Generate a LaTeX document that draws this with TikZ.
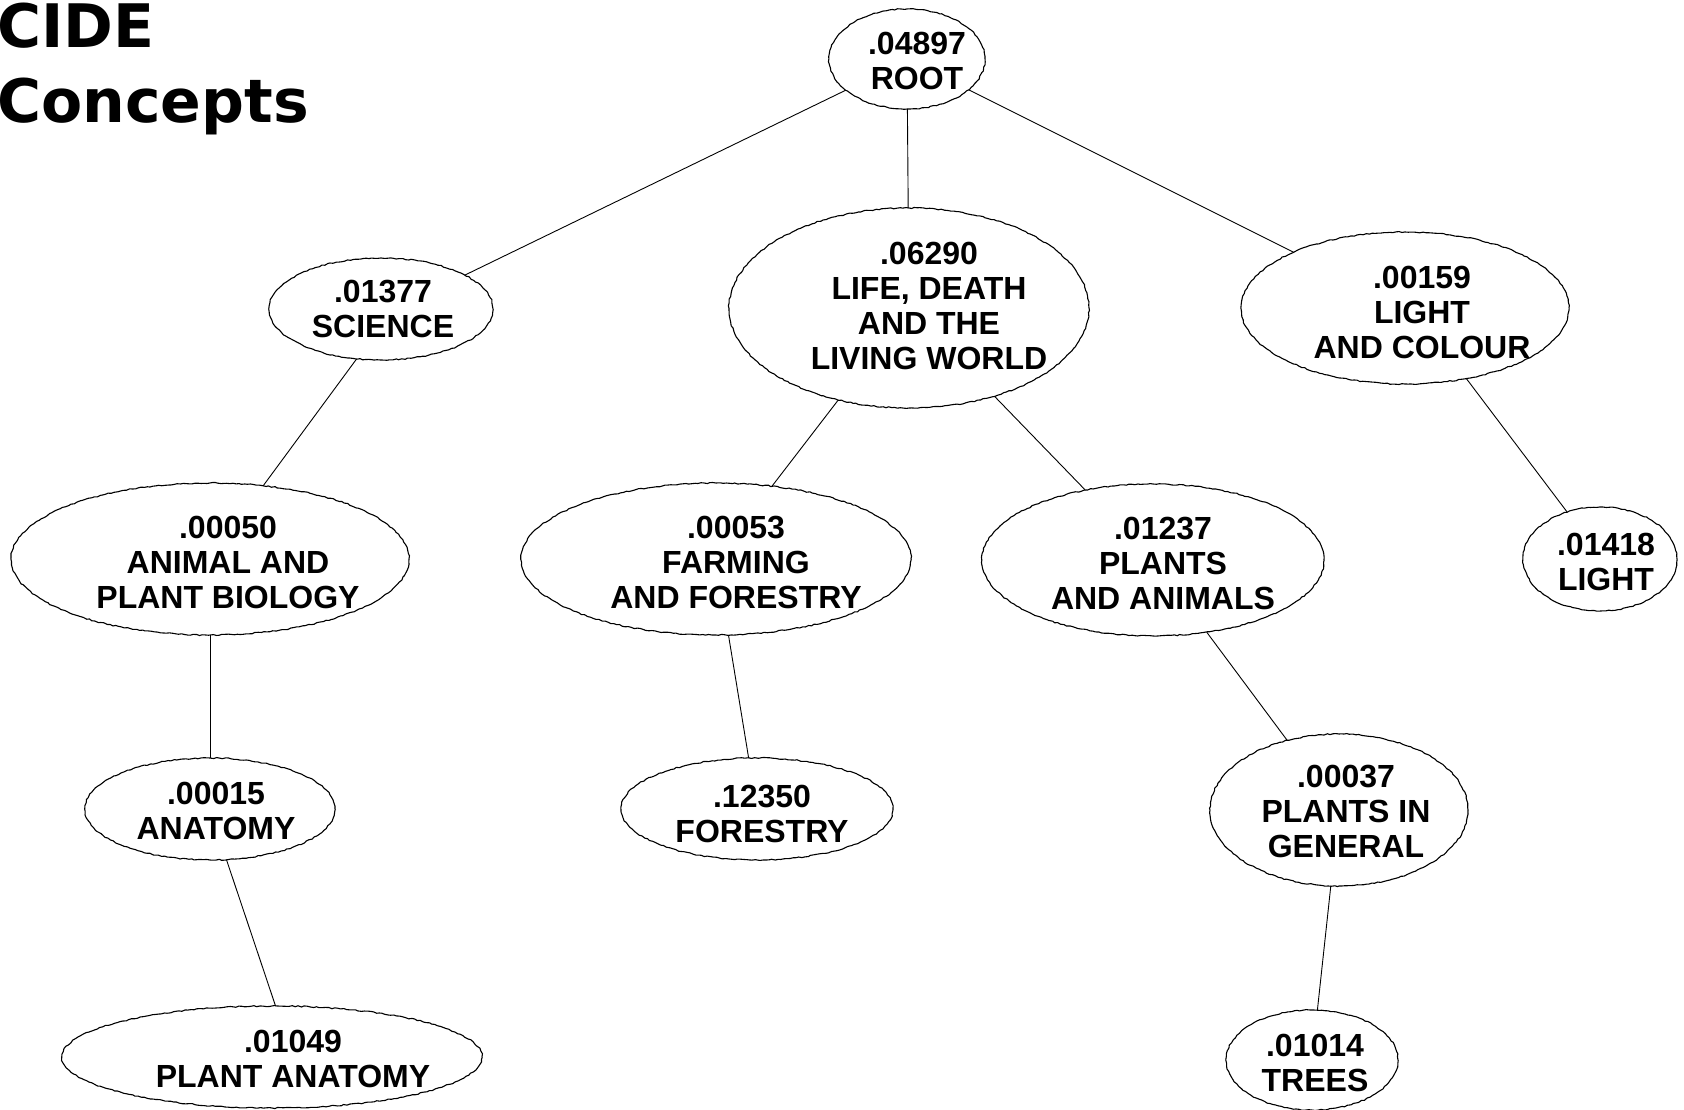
\documentclass[tikz,border=0pt]{standalone}
\usepackage{fontspec}
\usetikzlibrary{shapes.geometric,decorations.pathmorphing}
\newfontfamily\conceptfont{Liberation Sans}
\newfontfamily\titlefont{DejaVu Sans}
\begin{document}
\begin{tikzpicture}[x=1pt,y=-1pt,
  concept/.style={ellipse, draw=black, line width=1.1pt, inner sep=0pt, outer sep=0pt,
    decorate, decoration={random steps, segment length=3pt, amplitude=0.6pt}},
  caption/.style={align=center, inner sep=0pt, font=\conceptfont\bfseries\fontsize{32}{35}\selectfont},
  heading/.style={anchor=base west, inner sep=0pt, font=\titlefont\bfseries\fontsize{60}{70}\selectfont},
  link/.style={draw=black, line width=0.9pt}]
\useasboundingbox (0,0) rectangle (1684,1110);

% title
\node[heading] (t1) at (-3,48) {CIDE};
\node[heading] (t2) at (-3,123) {Concepts};

% concept ellipses
\node[concept, minimum width=156, minimum height=100] (root) at (907,59) {};
\node[concept, minimum width=224, minimum height=102] (sci) at (381,309) {};
\node[concept, minimum width=360, minimum height=200] (life) at (909,308) {};
\node[concept, minimum width=328, minimum height=152] (lc) at (1405,308) {};
\node[concept, minimum width=398, minimum height=152] (apb) at (210,559) {};
\node[concept, minimum width=390, minimum height=152] (farm) at (716,559) {};
\node[concept, minimum width=342, minimum height=152] (pa) at (1153,560) {};
\node[concept, minimum width=154, minimum height=104] (light) at (1600,559) {};
\node[concept, minimum width=250, minimum height=102] (anat) at (210,809) {};
\node[concept, minimum width=272, minimum height=102] (forest) at (757,809) {};
\node[concept, minimum width=258, minimum height=152] (pig) at (1339,810) {};
\node[concept, minimum width=420, minimum height=102] (panat) at (272,1057) {};
\node[concept, minimum width=172, minimum height=100] (trees) at (1312,1060) {};

% captions
\node[caption] (root-t) at ([xshift=10,yshift=-2]root.center) {.04897\\ROOT};
\node[caption] (sci-t) at ([xshift=2]sci.center) {.01377\\SCIENCE};
\node[caption] (life-t) at ([xshift=20,yshift=2]life.center) {.06290\\LIFE, DEATH\\AND THE\\LIVING WORLD};
\node[caption] (lc-t) at ([xshift=17,yshift=-4]lc.center) {.00159\\LIGHT\\AND COLOUR};
\node[caption] (apb-t) at ([xshift=18,yshift=-3]apb.center) {.00050\\ANIMAL AND\\PLANT BIOLOGY};
\node[caption] (farm-t) at ([xshift=20,yshift=-3]farm.center) {.00053\\FARMING\\AND FORESTRY};
\node[caption] (pa-t) at ([xshift=10,yshift=-3]pa.center) {.01237\\PLANTS\\AND ANIMALS};
\node[caption] (light-t) at ([xshift=6,yshift=-3]light.center) {.01418\\LIGHT};
\node[caption] (anat-t) at ([xshift=6,yshift=-2]anat.center) {.00015\\ANATOMY};
\node[caption] (forest-t) at ([xshift=5,yshift=-5]forest.center) {.12350\\FORESTRY};
\node[caption] (pig-t) at ([xshift=7,yshift=-1]pig.center) {.00037\\PLANTS IN\\GENERAL};
\node[caption] (panat-t) at ([xshift=21,yshift=-2]panat.center) {.01049\\PLANT ANATOMY};
\node[caption] (trees-t) at ([xshift=3,yshift=-3]trees.center) {.01014\\TREES};

% connectors
\draw[link] (root.-153.2) -- (sci.22.9);
\draw[link] (root) -- (life);
\draw[link] (root) -- (lc);
\draw[link] (sci.-116.7) -- (apb.54.2);
\draw[link] (life) -- (farm);
\draw[link] (life) -- (pa);
\draw[link] (lc.-49.3) -- (light.125.2);
\draw[link] (apb) -- (anat);
\draw[link] (farm) -- (forest);
\draw[link] (pa) -- (pig);
\draw[link] (anat.-72) -- (panat.86.4);
\draw[link] (pig) -- (trees);
\end{tikzpicture}
\end{document}
